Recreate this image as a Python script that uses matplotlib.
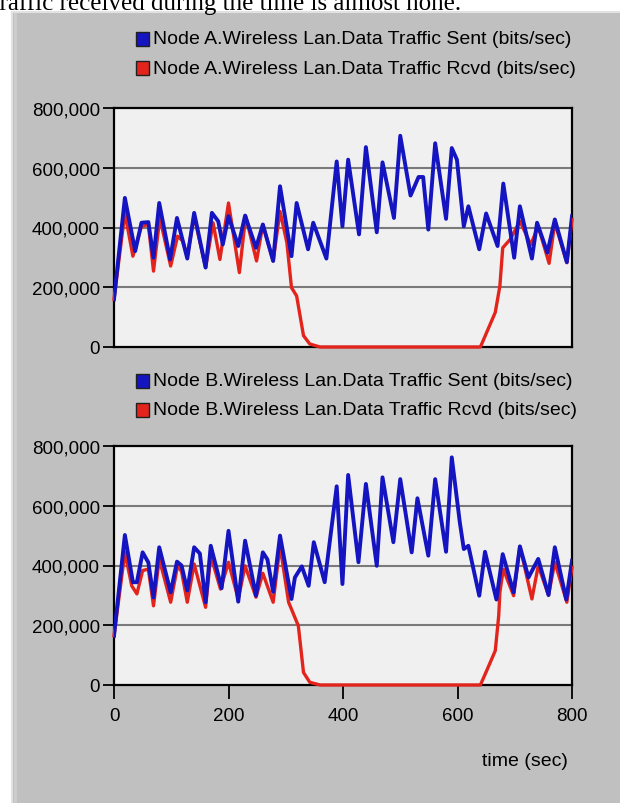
import matplotlib
matplotlib.use("Agg")
import matplotlib.pyplot as plt
from matplotlib.patches import Rectangle
from matplotlib.lines import Line2D
from matplotlib.ticker import FuncFormatter

# ---- data -------------------------------------------------------------
caption = "Traffic received during the time is almost none."
x_label = "time (sec)"
x_ticks = [0, 200, 400, 600, 800]
y_ticks = [0, 200000, 400000, 600000, 800000]

names_a = ["Node A.Wireless Lan.Data Traffic Sent (bits/sec)",
           "Node A.Wireless Lan.Data Traffic Rcvd (bits/sec)"]
names_b = ["Node B.Wireless Lan.Data Traffic Sent (bits/sec)",
           "Node B.Wireless Lan.Data Traffic Rcvd (bits/sec)"]

t_a_sent = [0, 19, 37, 48, 60, 69, 79, 98, 110, 128, 140, 160, 171, 182, 190,
            200, 217, 229, 248, 260, 278, 290, 310, 319, 339, 348, 371, 389,
            399, 409, 428, 440, 459, 469, 489, 500, 518, 532, 540, 549, 561,
            580, 590, 599, 611, 619, 638, 650, 670, 680, 699, 709, 730, 739,
            757, 770, 791, 800]
a_sent = [160000, 499000, 321000, 416000, 418000, 299000, 482000, 293000,
          432000, 296000, 449000, 266000, 449000, 421000, 343000, 438000,
          338000, 440000, 332000, 410000, 288000, 538000, 304000, 482000,
          327000, 416000, 296000, 621000, 404000, 627000, 377000, 669000,
          384000, 618000, 432000, 707000, 507000, 569000, 569000, 393000,
          682000, 429000, 666000, 627000, 404000, 471000, 327000, 447000,
          338000, 547000, 299000, 471000, 296000, 416000, 316000, 427000,
          284000, 438000]

t_a_rcvd = [0, 19, 33, 48, 60, 69, 80, 99, 111, 120, 128, 140, 160, 173, 185,
            200, 219, 230, 249, 260, 278, 290, 302, 310, 319, 331, 342, 360,
            640, 651, 666, 674, 679, 692, 709, 728, 741, 760, 770, 791, 800]
a_rcvd = [160000, 449000, 304000, 404000, 410000, 254000, 432000, 271000,
          371000, 355000, 304000, 438000, 266000, 416000, 293000, 482000,
          249000, 438000, 288000, 410000, 288000, 454000, 349000, 199000,
          171000, 38000, 10000, 0, 0, 49000, 116000, 204000, 332000, 360000,
          421000, 343000, 404000, 280000, 416000, 282000, 427000]

t_b_sent = [0, 19, 33, 40, 50, 60, 69, 79, 99, 110, 118, 128, 140, 150, 160,
            169, 188, 200, 217, 229, 248, 260, 268, 278, 290, 310, 316, 328,
            340, 349, 368, 389, 399, 409, 427, 440, 459, 469, 488, 500, 520,
            530, 549, 561, 580, 590, 604, 611, 619, 638, 648, 668, 679, 698,
            709, 724, 741, 759, 770, 790, 800]
b_sent = [165000, 502000, 344000, 344000, 444000, 410000, 293000, 461000,
          310000, 413000, 400000, 316000, 461000, 440000, 277000, 466000,
          324000, 516000, 279000, 483000, 299000, 444000, 420000, 312000,
          500000, 288000, 360000, 397000, 332000, 478000, 344000, 665000,
          338000, 703000, 411000, 673000, 399000, 695000, 478000, 689000,
          444000, 625000, 433000, 689000, 446000, 762000, 545000, 455000,
          466000, 299000, 446000, 286000, 438000, 310000, 464000, 360000,
          422000, 301000, 461000, 286000, 416000]

t_b_rcvd = [0, 19, 31, 40, 50, 60, 69, 79, 99, 111, 118, 128, 140, 160, 169,
            186, 200, 217, 229, 248, 260, 278, 290, 305, 322, 331, 342, 360,
            640, 651, 666, 672, 674, 680, 698, 709, 730, 741, 759, 770, 791,
            800]
b_rcvd = [165000, 444000, 332000, 305000, 383000, 388000, 265000, 422000,
          277000, 399000, 380000, 277000, 405000, 260000, 433000, 321000,
          411000, 288000, 399000, 294000, 374000, 277000, 466000, 277000,
          198000, 42000, 9000, 0, 0, 48000, 115000, 232000, 310000, 388000,
          299000, 464000, 288000, 399000, 301000, 411000, 277000, 394000]

# ---- styling ----------------------------------------------------------
W, H = 620, 804
SENT = "#1414c0"
RCVD = "#e3241c"
PANEL = "#c0c0c0"
PLOT_BG = "#f0f0f0"
FONT = ["Liberation Sans", "DejaVu Sans"]
plt.rcParams["font.family"] = FONT


def fx(x):
    return x / W


def fy(y):
    return 1 - y / H


fig = plt.figure(figsize=(W / 100, H / 100), dpi=100)
fig.patch.set_facecolor("white")

# grey window panel with a light bevel on the top/left edges
fig.patches.append(Rectangle((fx(12), 0), 1 - fx(12), fy(13),
                             transform=fig.transFigure, facecolor=PANEL,
                             edgecolor="none", zorder=-10))
fig.lines.append(Line2D([fx(12), fx(12)], [0, fy(13)], transform=fig.transFigure,
                        color="#e2e2e2", lw=1.5, zorder=-9))
fig.lines.append(Line2D([fx(14.5), fx(14.5)], [0, fy(15)], transform=fig.transFigure,
                        color="#cdcdcd", lw=2, zorder=-9))
fig.lines.append(Line2D([fx(12), 1], [fy(13), fy(13)], transform=fig.transFigure,
                        color="#e2e2e2", lw=1.5, zorder=-9))

fig.text(fx(-15), fy(10), caption, family=["Liberation Serif", "DejaVu Serif"],
         fontsize=18, va="baseline", ha="left", color="black")

fmt = FuncFormatter(lambda v, _: f"{int(v):,}")


def make_axes(top, bottom, show_x):
    ax = fig.add_axes([fx(114), fy(bottom), fx(572) - fx(114), (bottom - top) / H])
    ax.set_facecolor(PLOT_BG)
    ax.set_xlim(0, 800)
    ax.set_ylim(0, 800000)
    ax.set_yticks(y_ticks)
    ax.yaxis.set_major_formatter(fmt)
    ax.set_xticks(x_ticks)
    for s in ax.spines.values():
        s.set_color("black")
        s.set_linewidth(1.6)
    for v in y_ticks[1:-1]:
        ax.axhline(v, color="#7a7a7a", lw=1.5, zorder=1)
    ax.tick_params(axis="y", direction="out", length=8, width=1.3, pad=2,
                   labelsize=13.5, colors="black")
    if show_x:
        ax.tick_params(axis="x", direction="out", length=10, width=1.3, pad=6,
                       labelsize=13.5, colors="black")
    else:
        ax.tick_params(axis="x", length=0, labelbottom=False)
    return ax


def legend(names, centers):
    for name, color, cy in zip(names, (SENT, RCVD), centers):
        fig.patches.append(Rectangle((fx(136), fy(cy + 7)), 13 / W, 14 / H,
                                     transform=fig.transFigure, facecolor=color,
                                     edgecolor="#202020", lw=1.0, zorder=3))
        fig.text(fx(153), fy(cy), name, fontsize=14, va="center", ha="left",
                 color="black")


ax_a = make_axes(109, 348, False)
ax_a.plot(t_a_rcvd, a_rcvd, color=RCVD, lw=2.4, zorder=3, clip_on=False)
ax_a.plot(t_a_sent, a_sent, color=SENT, lw=2.8, zorder=4)
legend(names_a, (40, 69))

ax_b = make_axes(447, 686, True)
ax_b.plot(t_b_rcvd, b_rcvd, color=RCVD, lw=2.4, zorder=3, clip_on=False)
ax_b.plot(t_b_sent, b_sent, color=SENT, lw=2.8, zorder=4)
legend(names_b, (382, 411))

fig.text(fx(525), fy(762), x_label, fontsize=14, va="center", ha="center",
         color="black")

fig.savefig("out.png", dpi=100)
